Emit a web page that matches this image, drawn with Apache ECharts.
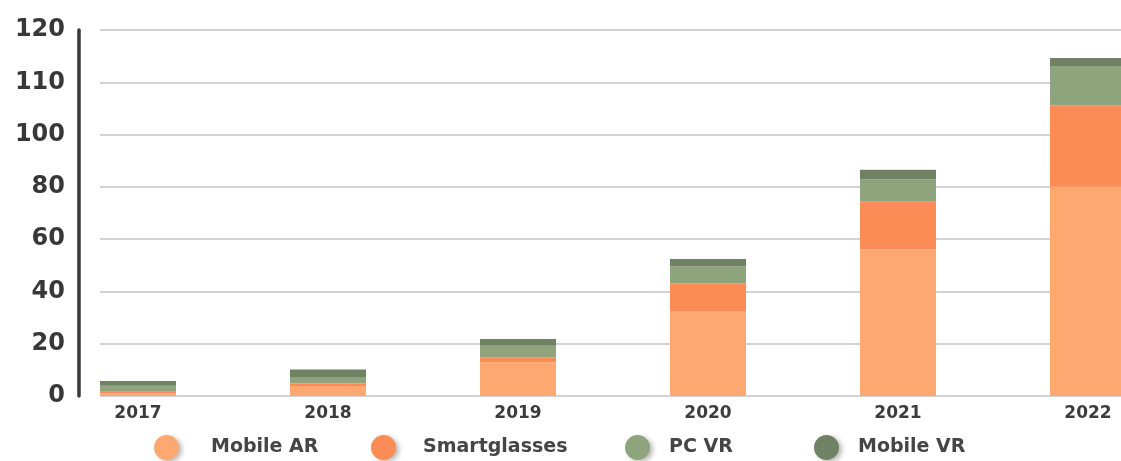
<!DOCTYPE html>
<html>
<head>
<meta charset="utf-8">
<title>AR / VR shipments 2017–2022</title>
<script src="https://cdn.jsdelivr.net/npm/echarts@6/dist/echarts.min.js"></script>
<style>
  html, body { margin: 0; padding: 0; background: #ffffff; }
  #chart { width: 1121px; height: 461px; }
</style>
</head>
<body>
<div id="chart"></div>
<script>
// Years along the horizontal axis
var years = ['2017', '2018', '2019', '2020', '2021', '2022'];

// Stacked segments, bottom to top
var mobileAR     = [1.0, 3.8, 12.9, 32.2, 56.1, 80.0];
var smartglasses = [0.6, 1.0, 1.9, 10.9, 18.2, 31.2];
var pcVR         = [2.3, 2.5, 4.4, 6.4, 8.6, 15.0];
var mobileVR     = [1.8, 2.8, 2.6, 2.9, 3.6, 3.1];

// Printed labels for the gridlines at 0, 20, 40 ... 140
var tickLabels = ['0', '20', '40', '60', '80', '100', '110', '120'];

var seriesNames = ['Mobile AR', 'Smartglasses', 'PC VR', 'Mobile VR'];
var seriesColors = ['#FDA870', '#FC8C55', '#8DA47D', '#6F8264'];
var seriesData = [mobileAR, smartglasses, pcVR, mobileVR];

var FONT = '"DejaVu Sans", "Noto Sans", sans-serif';

var chart = echarts.init(document.getElementById('chart'), null, { renderer: 'canvas' });

// One legend block per series so each sits at its own spot
var legendSpots = [
  { left: 154, width: 79 },
  { left: 371, width: 69 },
  { left: 625, width: 53 },
  { left: 814, width: 53 }
];
var legends = seriesNames.map(function (name, i) {
  return {
    data: [name],
    left: legendSpots[i].left,
    top: 435,
    padding: 0,
    icon: 'circle',
    itemWidth: legendSpots[i].width,
    itemHeight: 25,
    selectedMode: false,
    itemStyle: {
      shadowBlur: 5,
      shadowOffsetX: 3,
      shadowOffsetY: 2,
      shadowColor: 'rgba(0,0,0,0.28)'
    },
    textStyle: {
      fontFamily: FONT,
      fontWeight: 'bold',
      fontSize: 19,
      color: '#454545'
    }
  };
});

var option = {
  backgroundColor: '#ffffff',
  animation: false,
  legend: legends,
  grid: [
    // bars: 190px per year band, last band runs past the right edge
    { left: 43, width: 1140, top: 30, bottom: 65, outerBoundsMode: 'none', containLabel: false },
    // horizontal gridlines
    { left: 100, right: 0, top: 30, bottom: 65 },
    // left axis line and its labels
    { left: 79, width: 10, top: 30, bottom: 65, outerBoundsMode: 'none' }
  ],
  xAxis: [
    {
      type: 'category',
      gridIndex: 0,
      data: years,
      boundaryGap: true,
      axisLine: { show: false },
      axisTick: { show: false },
      splitLine: { show: false },
      axisLabel: {
        margin: 9,
        fontFamily: FONT,
        fontWeight: 'bold',
        fontSize: 17,
        color: '#3c3c3c'
      }
    },
    { type: 'value', gridIndex: 1, min: 0, max: 1, show: false },
    { type: 'value', gridIndex: 2, min: 0, max: 1, show: false }
  ],
  yAxis: [
    {
      type: 'value',
      gridIndex: 0,
      min: 0,
      max: 140,
      interval: 20,
      show: false
    },
    {
      type: 'value',
      gridIndex: 1,
      min: 0,
      max: 140,
      interval: 20,
      axisLine: { show: false },
      axisTick: { show: false },
      axisLabel: { show: false },
      splitLine: { show: true, lineStyle: { color: '#d3d3d3', width: 2.2 } }
    },
    {
      type: 'value',
      gridIndex: 2,
      min: 0,
      max: 140,
      interval: 20,
      axisLine: { show: true, lineStyle: { color: '#3a3a3a', width: 3.5 } },
      axisTick: { show: false },
      splitLine: { show: false },
      axisLabel: {
        margin: 14,
        fontFamily: FONT,
        fontWeight: 'bold',
        fontSize: 24,
        color: '#383838',
        formatter: function (v) {
          var idx = Math.round(v / 20);
          return tickLabels[idx] !== undefined ? tickLabels[idx] : '';
        }
      }
    }
  ],
  series: seriesNames.map(function (name, i) {
    return {
      name: name,
      type: 'bar',
      xAxisIndex: 0,
      yAxisIndex: 0,
      stack: 'total',
      barWidth: 76,
      data: seriesData[i],
      itemStyle: { color: seriesColors[i] }
    };
  })
};

chart.setOption(option);
</script>
</body>
</html>
